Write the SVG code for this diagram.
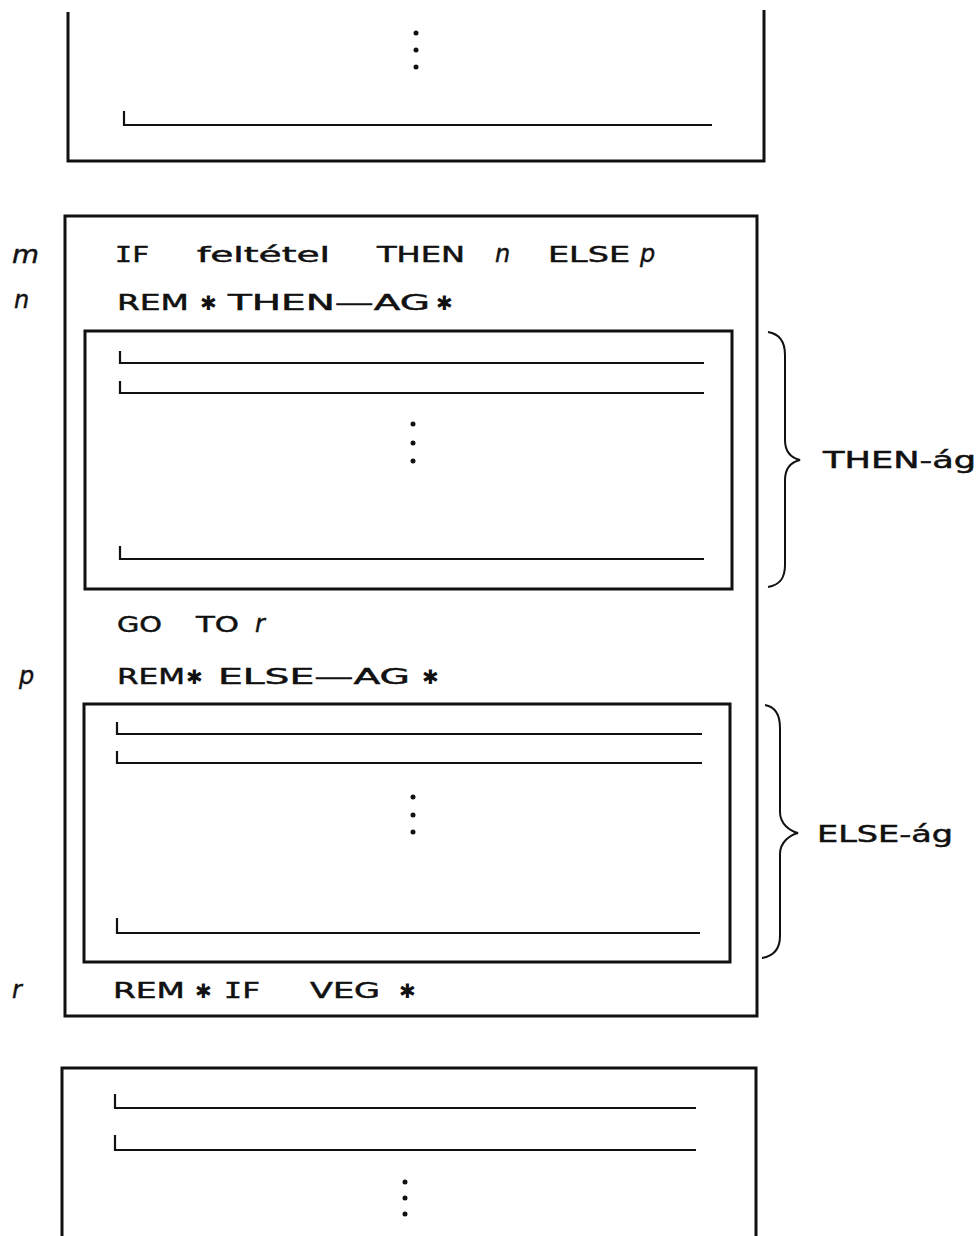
<svg xmlns="http://www.w3.org/2000/svg" width="978" height="1236" viewBox="0 0 978 1236">
<style>
.box{fill:none;stroke:#111;stroke-width:3}
.ln{fill:none;stroke:#111;stroke-width:2.2}
.br{fill:none;stroke:#111;stroke-width:2}
.t{font-family:"DejaVu Sans","Liberation Sans",sans-serif;font-size:22px;fill:#111;stroke:#111;stroke-width:0.5}
.m{font-family:"DejaVu Sans Mono","Liberation Mono",monospace;font-size:22px;fill:#111;stroke:#111;stroke-width:0.5}
.i{font-family:"DejaVu Sans","Liberation Sans",sans-serif;font-size:24px;font-style:italic;fill:#111;stroke:#111;stroke-width:0.4}
.s{font-family:"DejaVu Sans","Liberation Sans",sans-serif;font-size:20px;fill:#111}
.lab{font-family:"DejaVu Sans","Liberation Sans",sans-serif;font-size:23px;fill:#111;stroke:#111;stroke-width:0.5}
.dot{fill:#111}
</style>
<rect width="978" height="1236" fill="#fff"/>

<g id="top-block">
<path class="box" d="M68,12 V161 H764 V10"/>
<circle class="dot" cx="416" cy="33" r="2.5"/>
<circle class="dot" cx="416" cy="50" r="2.5"/>
<circle class="dot" cx="416" cy="67" r="2.5"/>
<path class="ln" d="M124,111 V125 H712"/>
</g>

<g id="if-block">
<rect class="box" x="65" y="216" width="692" height="800"/>
<text class="i" x="12" y="263" textLength="27" lengthAdjust="spacingAndGlyphs">m</text>
<text class="i" x="14" y="308">n</text>
<text class="m" x="115" y="262" textLength="34" lengthAdjust="spacingAndGlyphs">IF</text>
<text class="t" x="197" y="262" textLength="133" lengthAdjust="spacingAndGlyphs">feltétel</text>
<text class="t" x="377" y="262" textLength="88" lengthAdjust="spacingAndGlyphs">THEN</text>
<text class="i" x="495" y="262">n</text>
<text class="t" x="548" y="262" textLength="82" lengthAdjust="spacingAndGlyphs">ELSE</text>
<text class="i" x="640" y="262">p</text>

<text class="t" x="117" y="310" textLength="72" lengthAdjust="spacingAndGlyphs">REM</text>
<text class="s" x="200" y="310">✱</text>
<text class="t" x="228" y="310" textLength="202" lengthAdjust="spacingAndGlyphs">THEN—AG</text>
<text class="s" x="436" y="310">✱</text>
</g>

<g id="then-branch">
<rect class="box" x="85" y="331" width="647" height="258"/>
<path class="ln" d="M120,351 V363 H704"/>
<path class="ln" d="M120,381 V393 H704"/>
<circle class="dot" cx="413" cy="424" r="2.5"/>
<circle class="dot" cx="413" cy="443" r="2.5"/>
<circle class="dot" cx="413" cy="461" r="2.5"/>
<path class="ln" d="M120,546 V559 H704"/>
</g>

<g id="goto-else">
<text class="t" x="117" y="632" textLength="45" lengthAdjust="spacingAndGlyphs">GO</text>
<text class="t" x="196" y="632" textLength="43" lengthAdjust="spacingAndGlyphs">TO</text>
<text class="i" x="255" y="632">r</text>
<text class="i" x="19" y="684">p</text>
<text class="t" x="117" y="684" textLength="68" lengthAdjust="spacingAndGlyphs">REM</text>
<text class="s" x="186" y="684">✱</text>
<text class="t" x="218" y="684" textLength="192" lengthAdjust="spacingAndGlyphs">ELSE—AG</text>
<text class="s" x="422" y="684">✱</text>
</g>

<g id="else-branch">
<rect class="box" x="84" y="704" width="646" height="258"/>
<path class="ln" d="M117,722 V734 H702"/>
<path class="ln" d="M117,751 V763 H702"/>
<circle class="dot" cx="413" cy="797" r="2.5"/>
<circle class="dot" cx="413" cy="815" r="2.5"/>
<circle class="dot" cx="413" cy="832" r="2.5"/>
<path class="ln" d="M117,918 V933 H700"/>
</g>

<g id="end-if">
<text class="i" x="12" y="998">r</text>
<text class="t" x="113" y="998" textLength="72" lengthAdjust="spacingAndGlyphs">REM</text>
<text class="s" x="195" y="998">✱</text>
<text class="m" x="224" y="998" textLength="36" lengthAdjust="spacingAndGlyphs">IF</text>
<text class="t" x="310" y="998" textLength="70" lengthAdjust="spacingAndGlyphs">VEG</text>
<text class="s" x="399" y="998">✱</text>
</g>

<g id="bottom-block">
<path class="box" d="M62,1236 V1068 H756 V1236"/>
<path class="ln" d="M115,1094 V1108 H696"/>
<path class="ln" d="M115,1135 V1150 H696"/>
<circle class="dot" cx="405" cy="1182" r="2.5"/>
<circle class="dot" cx="405" cy="1198" r="2.5"/>
<circle class="dot" cx="405" cy="1214" r="2.5"/>
</g>

<g id="then-label">
<path class="br" d="M768,332 C780,334 785,342 785,355 L785,440 C785,452 792,458 800,460 C792,462 785,468 785,480 L785,565 C785,578 780,585 768,587"/>
<text class="lab" x="823" y="468" textLength="153" lengthAdjust="spacingAndGlyphs">THEN-ág</text>
</g>

<g id="else-label">
<path class="br" d="M765,705 C776,707 780,715 780,728 L780,812 C780,824 790,831 798,833 C790,835 780,842 780,854 L780,936 C780,948 774,956 762,958"/>
<text class="lab" x="817" y="842" textLength="136" lengthAdjust="spacingAndGlyphs">ELSE-ág</text>
</g>
</svg>
